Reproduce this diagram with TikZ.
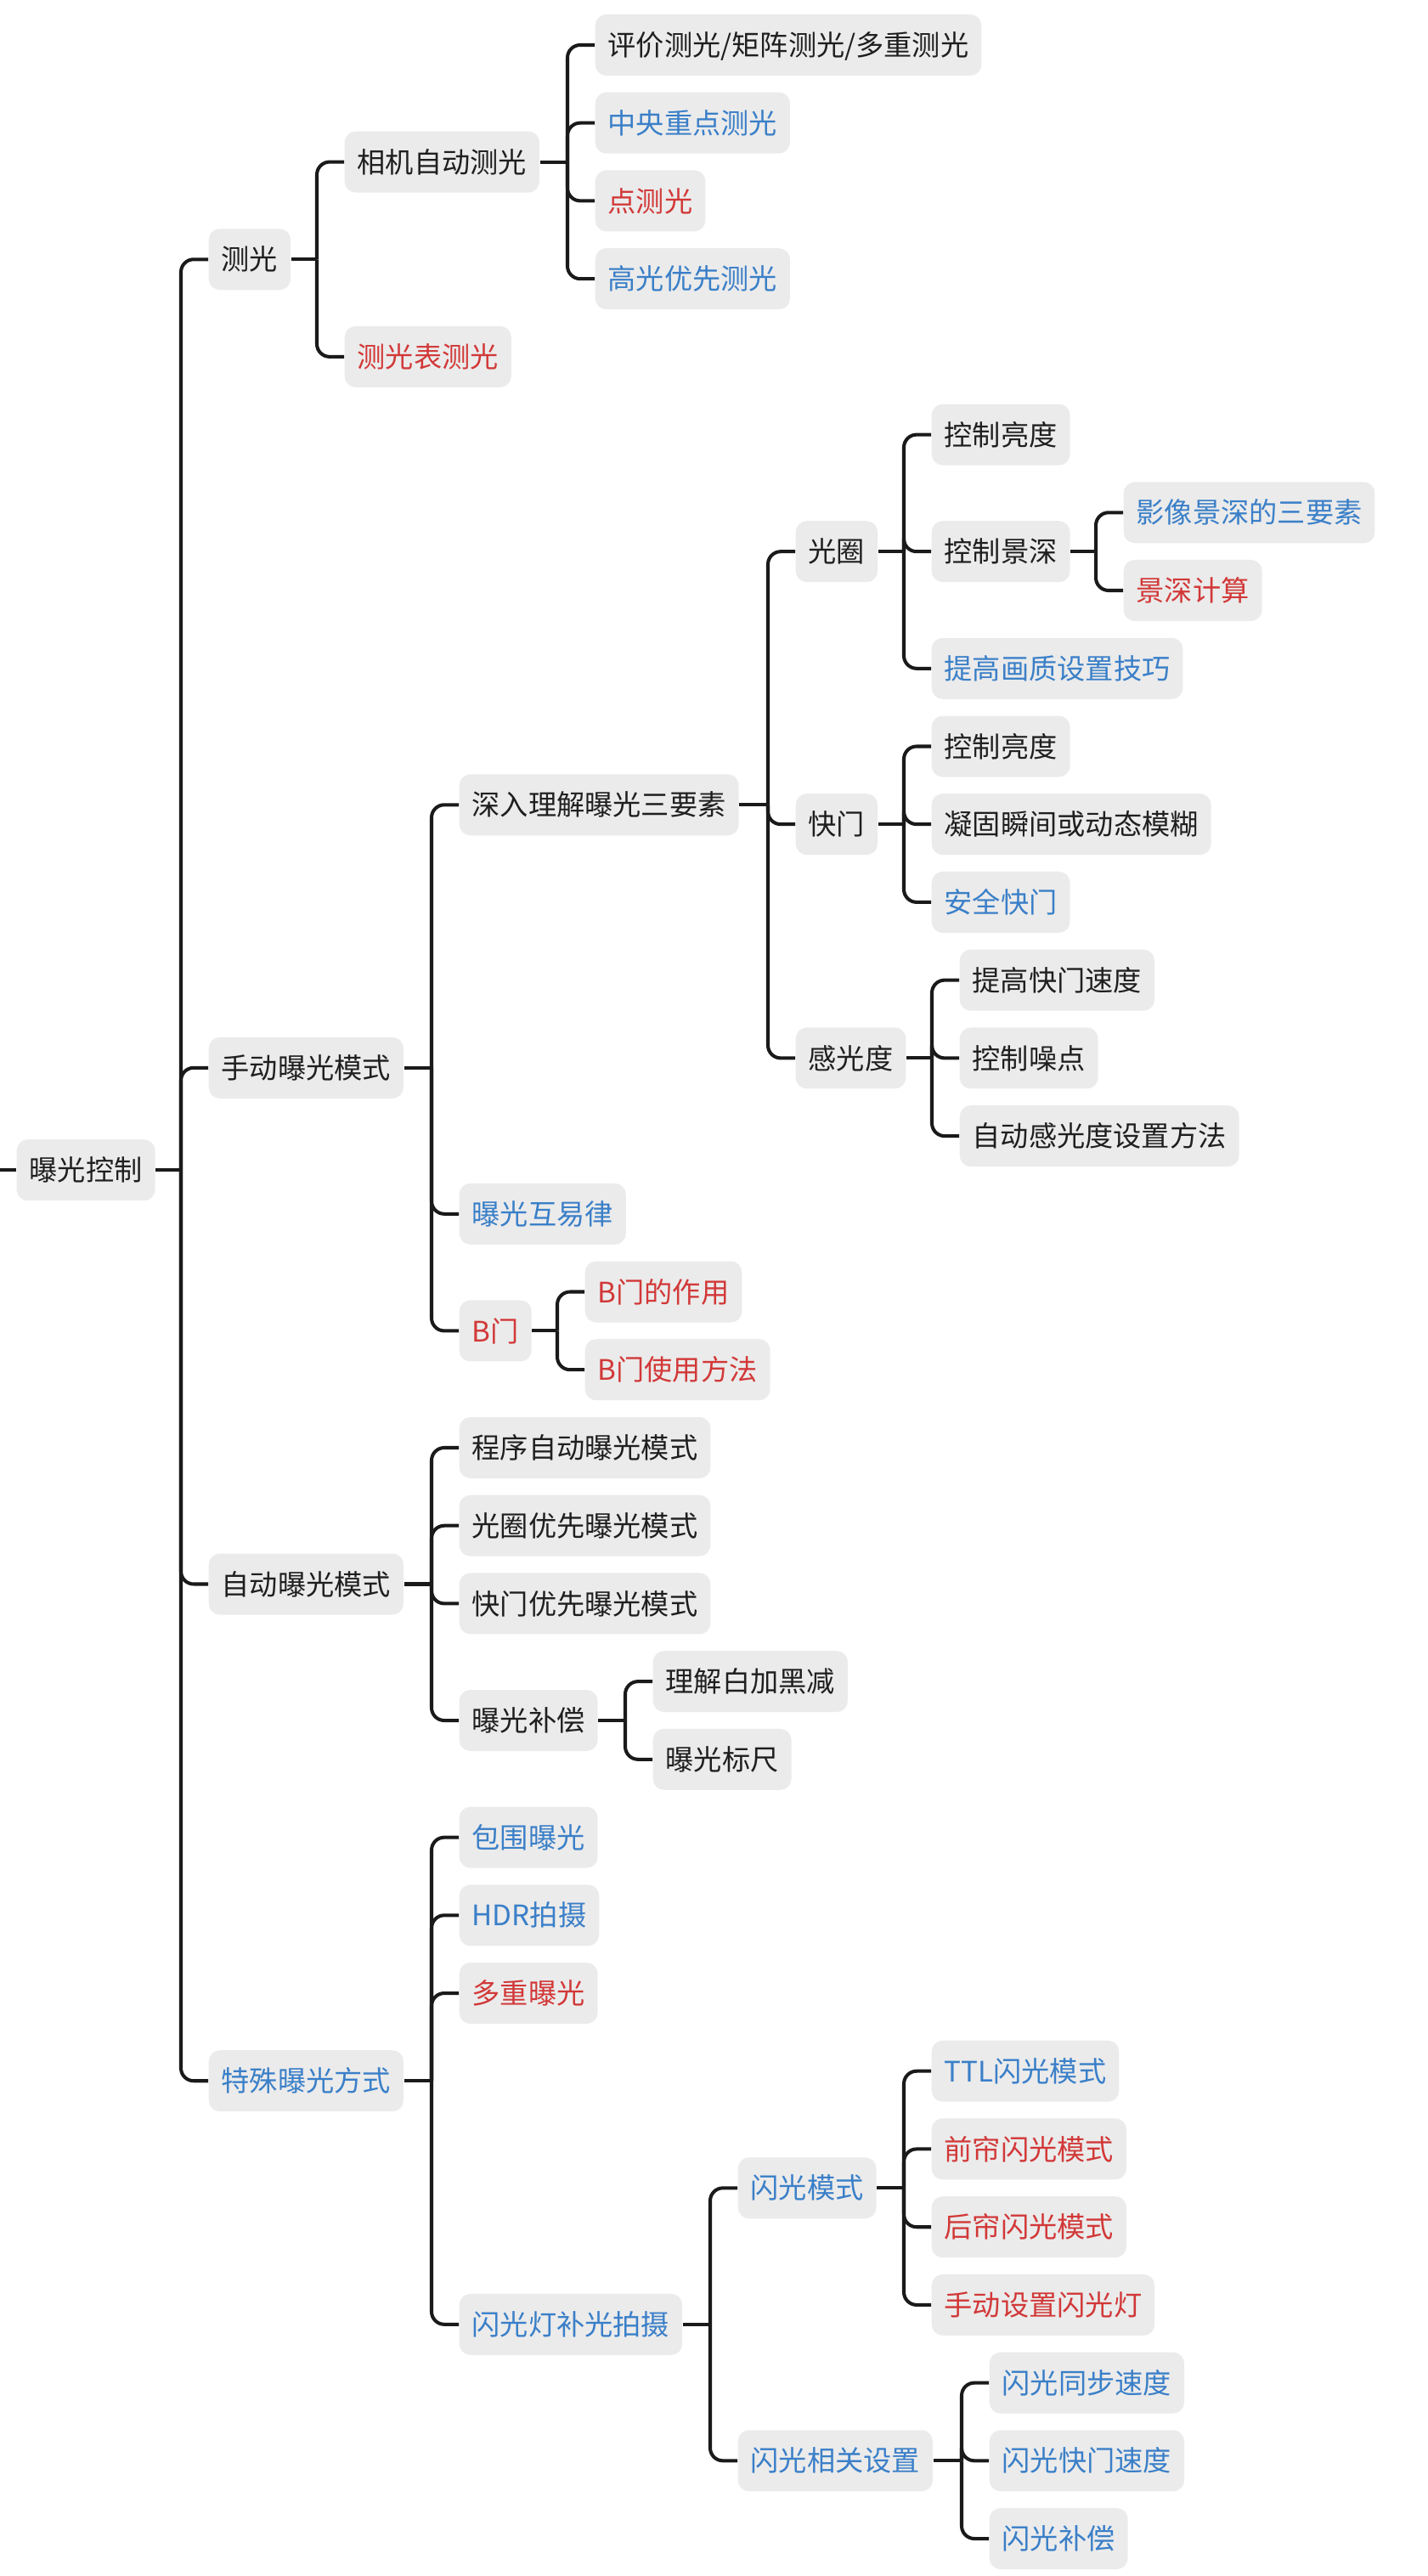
\documentclass[tikz,border=0pt]{standalone}
\usepackage{fontspec}
\setmainfont{Noto Sans CJK SC}
\usetikzlibrary{calc}
\definecolor{ink}{RGB}{31,31,31}
\definecolor{mblue}{RGB}{58,127,200}
\definecolor{mred}{RGB}{210,56,56}
\definecolor{boxgray}{RGB}{235,235,235}
\definecolor{wire}{RGB}{26,26,26}

\begin{document}
\begin{tikzpicture}[
    font=\fontsize{9.45}{11}\selectfont,
    item/.style={fill=boxgray, rounded corners=0.13cm, anchor=west, inner xsep=0.15cm, inner ysep=0pt,
        minimum height=0.72cm, text height=8.3pt, text depth=1.1pt, text=ink},
    blueitem/.style={item, text=mblue},
    reditem/.style={item, text=mred},
    link/.style={draw=wire, line width=1.15pt, rounded corners=0.15cm}
]
    \useasboundingbox (0,0) rectangle (16.8,-30.32);

    % Root
    \node[item] (root) at (0.19,-13.772) {曝光控制};
    \coordinate (edge) at (0,-13.772);

    % Metering
    \node[item] (meter) at (2.45,-3.053) {测光};
    \node[item] (cam) at (4.05,-1.906) {相机自动测光};
    \node[reditem] (mtr) at (4.05,-4.199) {测光表测光};
    \node[item] (eval) at (7.00,-0.530) {评价测光/矩阵测光/多重测光};
    \node[blueitem] (center) at (7.00,-1.447) {中央重点测光};
    \node[reditem] (spot) at (7.00,-2.364) {点测光};
    \node[blueitem] (hilite) at (7.00,-3.282) {高光优先测光};

    % Manual mode
    \node[item] (manual) at (2.45,-12.568) {手动曝光模式};
    \node[item] (deep) at (5.40,-9.473) {深入理解曝光三要素};
    \node[blueitem] (recip) at (5.40,-14.288) {曝光互易律};
    \node[reditem] (bulb) at (5.40,-15.664) {B门};
    \node[item] (aper) at (9.36,-6.492) {光圈};
    \node[item] (shut) at (9.36,-9.702) {快门};
    \node[item] (iso) at (9.36,-12.454) {感光度};
    \node[item] (abright) at (10.96,-5.116) {控制亮度};
    \node[item] (dof) at (10.96,-6.492) {控制景深};
    \node[blueitem] (quality) at (10.96,-7.868) {提高画质设置技巧};
    \node[blueitem] (dofthree) at (13.22,-6.033) {影像景深的三要素};
    \node[reditem] (dofcalc) at (13.22,-6.950) {景深计算};
    \node[item] (sbright) at (10.96,-8.785) {控制亮度};
    \node[item] (freeze) at (10.96,-9.702) {凝固瞬间或动态模糊};
    \node[blueitem] (safe) at (10.96,-10.619) {安全快门};
    \node[item] (faster) at (11.29,-11.536) {提高快门速度};
    \node[item] (noise) at (11.29,-12.454) {控制噪点};
    \node[item] (autoiso) at (11.29,-13.371) {自动感光度设置方法};
    \node[reditem] (bulbuse) at (6.88,-15.205) {B门的作用};
    \node[reditem] (bulbhow) at (6.88,-16.122) {B门使用方法};

    % Auto mode
    \node[item] (automode) at (2.45,-18.645) {自动曝光模式};
    \node[item] (prog) at (5.40,-17.040) {程序自动曝光模式};
    \node[item] (apri) at (5.40,-17.957) {光圈优先曝光模式};
    \node[item] (spri) at (5.40,-18.874) {快门优先曝光模式};
    \node[item] (comp) at (5.40,-20.250) {曝光补偿};
    \node[item] (whiteblack) at (7.68,-19.791) {理解白加黑减};
    \node[item] (ruler) at (7.68,-20.708) {曝光标尺};

    % Special exposure
    \node[blueitem] (special) at (2.45,-24.492) {特殊曝光方式};
    \node[blueitem] (bracket) at (5.40,-21.626) {包围曝光};
    \node[blueitem] (hdr) at (5.40,-22.543) {HDR拍摄};
    \node[reditem] (multi) at (5.40,-23.460) {多重曝光};
    \node[blueitem] (flash) at (5.40,-27.358) {闪光灯补光拍摄};
    \node[blueitem] (fmode) at (8.68,-25.753) {闪光模式};
    \node[blueitem] (fset) at (8.68,-28.963) {闪光相关设置};
    \node[blueitem] (ttl) at (10.96,-24.377) {TTL闪光模式};
    \node[reditem] (front) at (10.96,-25.294) {前帘闪光模式};
    \node[reditem] (rear) at (10.96,-26.212) {后帘闪光模式};
    \node[reditem] (manflash) at (10.96,-27.129) {手动设置闪光灯};
    \node[blueitem] (sync) at (11.64,-28.046) {闪光同步速度};
    \node[blueitem] (fshut) at (11.64,-28.963) {闪光快门速度};
    \node[blueitem] (fcomp) at (11.64,-29.880) {闪光补偿};

    % Branches
    \draw[link] (edge) -- (root.west);
    \foreach \p/\c/\kids in {
        root/meter/{meter,manual,automode,special},
        meter/cam/{cam,mtr},
        cam/eval/{eval,center,spot,hilite},
        manual/deep/{deep,recip,bulb},
        deep/aper/{aper,shut,iso},
        aper/abright/{abright,dof,quality},
        dof/dofthree/{dofthree,dofcalc},
        shut/sbright/{sbright,freeze,safe},
        iso/faster/{faster,noise,autoiso},
        bulb/bulbuse/{bulbuse,bulbhow},
        automode/prog/{prog,apri,spri,comp},
        comp/whiteblack/{whiteblack,ruler},
        special/bracket/{bracket,hdr,multi,flash},
        flash/fmode/{fmode,fset},
        fmode/ttl/{ttl,front,rear,manflash},
        fset/sync/{sync,fshut,fcomp}}{
        \coordinate[xshift=-0.32cm] (\p-j) at (\p.east -| \c.west);
        \draw[link] (\p.east) -- (\p-j);
        \foreach \k in \kids
            \draw[link] (\p-j) |- (\k.west);
    }
\end{tikzpicture}
\end{document}
